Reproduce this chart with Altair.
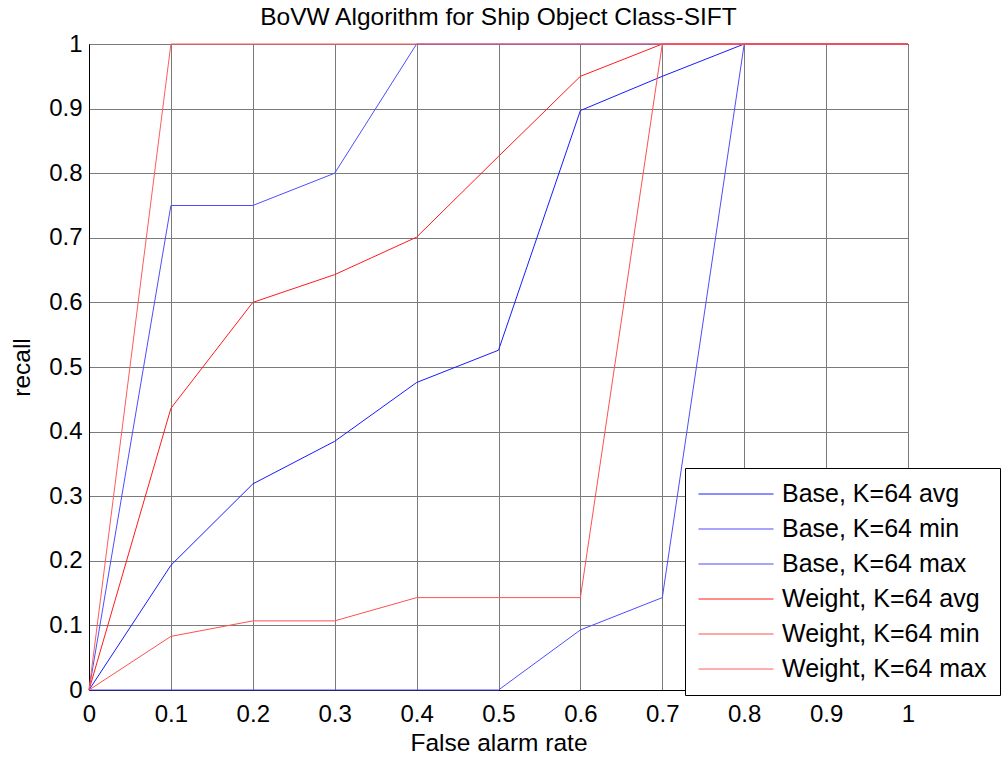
import altair as alt
import pandas as pd

# False alarm rate sampled at each step
far = [0.0, 0.1, 0.2, 0.3, 0.4, 0.5, 0.6, 0.7, 0.8, 0.9, 1.0]

# Recall curves for each configuration
base_avg = [0.0, 0.193, 0.319, 0.385, 0.476, 0.526, 0.897, 0.95, 1.0, 1.0, 1.0]
base_min = [0.0, 0.0, 0.0, 0.0, 0.0, 0.0, 0.093, 0.143, 1.0, 1.0, 1.0]
base_max = [0.0, 0.75, 0.75, 0.8, 1.0, 1.0, 1.0, 1.0, 1.0, 1.0, 1.0]
weight_avg = [0.0, 0.436, 0.6, 0.643, 0.701, 0.826, 0.95, 1.0, 1.0, 1.0, 1.0]
weight_min = [0.0, 0.083, 0.107, 0.107, 0.143, 0.143, 0.143, 1.0, 1.0, 1.0, 1.0]
weight_max = [0.0, 1.0, 1.0, 1.0, 1.0, 1.0, 1.0, 1.0, 1.0, 1.0, 1.0]

series_names = [
    "Base, K=64 avg",
    "Base, K=64 min",
    "Base, K=64 max",
    "Weight, K=64 avg",
    "Weight, K=64 min",
    "Weight, K=64 max",
]
series_values = [base_avg, base_min, base_max, weight_avg, weight_min, weight_max]
series_colors = ["#1a1aff", "#4d4dff", "#4d4dff", "#ff1a1a", "#ff5050", "#ff5c5c"]

tick_values = [0.0, 0.1, 0.2, 0.3, 0.4, 0.5, 0.6, 0.7, 0.8, 0.9, 1.0]

rows = []
for order, (name, vals) in enumerate(zip(series_names, series_values)):
    for x, y in zip(far, vals):
        rows.append({"series": name, "far": x, "recall": y, "order": order})
df = pd.DataFrame(rows)

FONT = "Liberation Sans"

chart = (
    alt.Chart(df)
    .mark_line(strokeWidth=1, clip=False)
    .encode(
        x=alt.X(
            "far:Q",
            scale=alt.Scale(domain=[0, 1], nice=False, zero=False),
            axis=alt.Axis(
                title="False alarm rate",
                values=tick_values,
                format=".1~f",
                labelFlush=False,
                labelPadding=12,
                titlePadding=5,
            ),
        ),
        y=alt.Y(
            "recall:Q",
            scale=alt.Scale(domain=[0, 1], nice=False, zero=False),
            axis=alt.Axis(
                title="recall",
                values=tick_values,
                format=".1~f",
                labelFlush=False,
                labelPadding=7,
                titlePadding=14,
            ),
        ),
        color=alt.Color(
            "series:N",
            scale=alt.Scale(domain=series_names, range=series_colors),
            sort=series_names,
            legend=alt.Legend(
                title=None,
                orient="none",
                legendX=596,
                legendY=424,
                symbolType="stroke",
                symbolSize=5625,
                symbolStrokeWidth=1,
                labelFontSize=25,
                labelFont=FONT,
                labelColor="black",
                labelLimit=400,
                labelOffset=8,
                strokeColor="black",
                fillColor="white",
                padding=13,
                rowPadding=9,
                clipHeight=26,
            ),
        ),
        detail="series:N",
        order="order:Q",
    )
    .properties(
        width=819,
        height=646,
        title=alt.TitleParams(
            "BoVW Algorithm for Ship Object Class-SIFT",
            font=FONT,
            fontSize=24.5,
            fontWeight="normal",
            color="black",
            anchor="middle",
            frame="group",
            offset=2,
        ),
        autosize=alt.AutoSizeParams(type="none"),
        padding={"left": 89, "top": 44, "right": 95, "bottom": 72},
    )
    .configure_view(stroke="black", strokeWidth=1)
    .configure_axis(
        labelFont=FONT,
        labelFontSize=24,
        labelColor="black",
        titleFont=FONT,
        titleFontSize=24.5,
        titleFontWeight="normal",
        titleColor="black",
        grid=True,
        gridColor="#7a7a7a",
        gridOpacity=1,
        gridWidth=1,
        domainColor="black",
        tickSize=0,
    )
)

chart.save("out.html", embed_options={"renderer": "svg", "actions": False})
